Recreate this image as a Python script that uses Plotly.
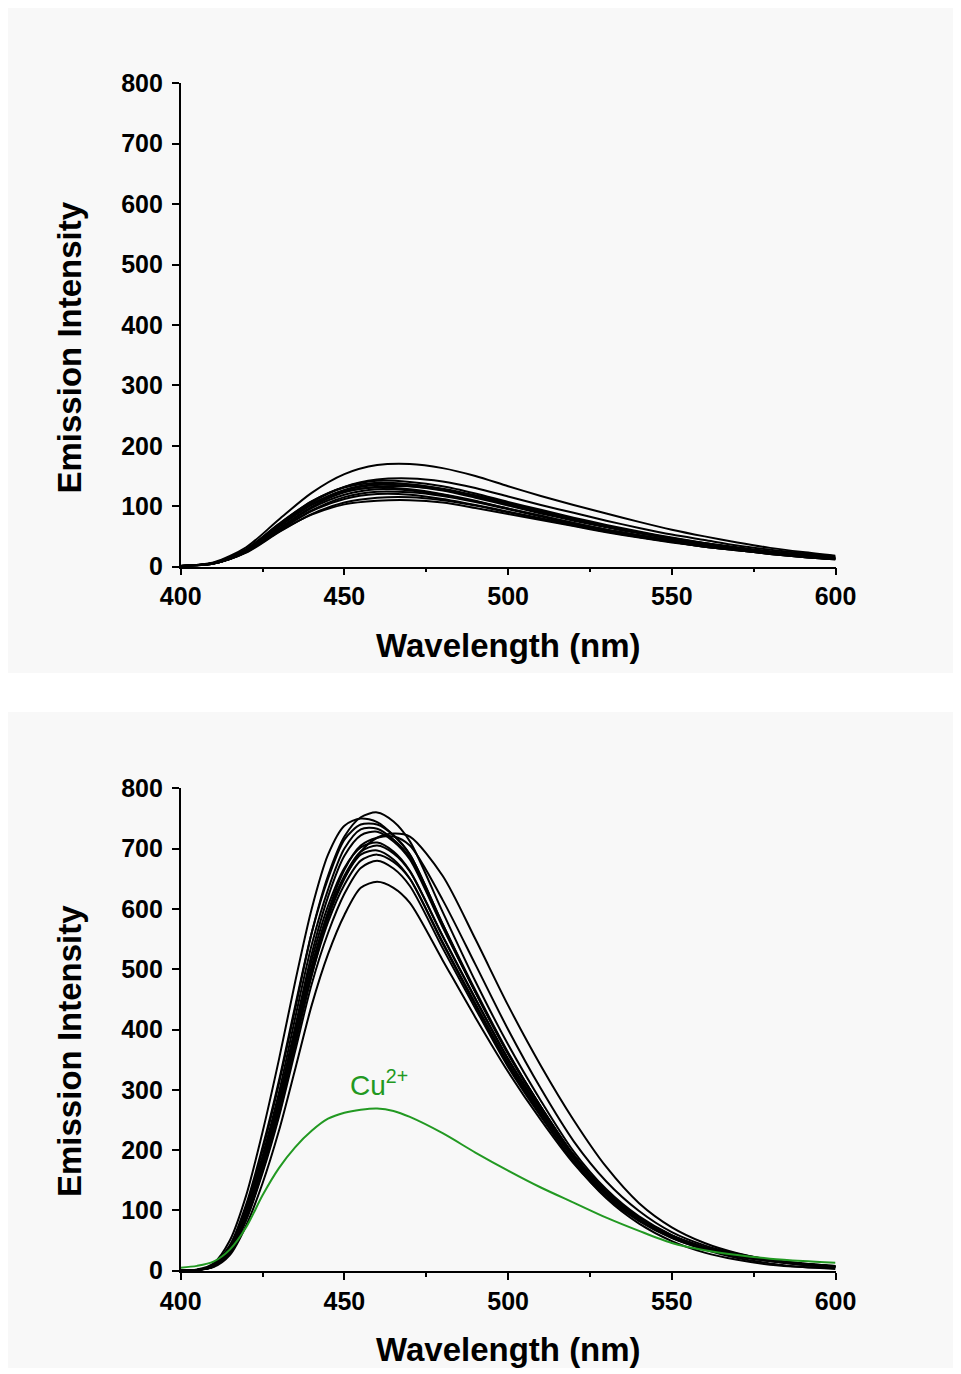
import plotly.graph_objects as go

# ---------------- data ----------------
wl_top = [400, 410, 420, 430, 440, 450, 460, 470, 480, 490, 500,
          510, 520, 530, 540, 550, 560, 570, 580, 590, 600]

top_1 = [1, 7, 32, 78, 122, 153, 168, 170, 163, 150, 133, 117, 102, 88, 74, 61, 50, 40, 31, 24, 18]
top_2 = [1, 6, 28, 68, 106, 132, 144, 146, 141, 130, 116, 102, 89, 76, 64, 53, 44, 35, 28, 22, 17]
top_3 = [1, 6, 28, 70, 108, 132, 142, 140, 133, 121, 107, 94, 81, 69, 58, 48, 39, 32, 25, 20, 15]
top_4 = [1, 6, 29, 71, 108, 131, 139, 136, 128, 116, 103, 90, 78, 66, 56, 46, 38, 31, 24, 19, 15]
top_5 = [1, 5, 26, 66, 103, 127, 137, 136, 129, 118, 105, 92, 79, 67, 57, 47, 39, 31, 25, 19, 15]
top_6 = [1, 6, 27, 67, 103, 126, 135, 133, 126, 114, 101, 88, 76, 65, 55, 46, 37, 30, 24, 19, 14]
top_7 = [1, 5, 25, 63, 99, 123, 132, 133, 127, 116, 103, 90, 77, 66, 56, 46, 38, 31, 24, 19, 14]
top_8 = [1, 6, 27, 67, 102, 124, 131, 128, 120, 109, 96, 84, 72, 61, 52, 43, 35, 28, 22, 17, 13]
top_9 = [1, 5, 25, 62, 97, 119, 128, 126, 119, 108, 96, 84, 72, 61, 52, 43, 35, 28, 22, 17, 13]
top_10 = [1, 5, 24, 60, 93, 115, 124, 123, 117, 107, 95, 83, 71, 61, 51, 43, 35, 28, 22, 17, 13]
top_11 = [1, 5, 25, 60, 92, 112, 120, 119, 112, 102, 91, 80, 69, 58, 49, 41, 33, 27, 21, 16, 12]
top_12 = [1, 5, 23, 57, 87, 106, 114, 115, 110, 101, 90, 79, 68, 58, 49, 41, 33, 27, 21, 16, 12]
top_13 = [1, 5, 24, 58, 86, 103, 109, 110, 106, 97, 87, 77, 67, 57, 48, 40, 33, 27, 21, 16, 12]

top_curves = [top_1, top_2, top_3, top_4, top_5, top_6, top_7,
              top_8, top_9, top_10, top_11, top_12, top_13]

wl_bot = [400, 405, 410, 415, 420, 425, 430, 435, 440, 445, 450, 455, 460, 465,
          470, 480, 490, 500, 510, 520, 530, 540, 550, 560, 570, 580, 590, 600]

bot_1 = [0, 1, 9, 40, 105, 200, 310, 435, 560, 655, 720, 752, 760, 745, 712, 595, 480, 375, 282, 198, 135, 90, 59, 39, 26, 17, 11, 7]
bot_2 = [0, 2, 12, 50, 125, 230, 350, 480, 600, 690, 738, 750, 744, 722, 690, 575, 462, 360, 270, 190, 130, 86, 55, 35, 21, 12, 6, 3]
bot_3 = [0, 1, 10, 42, 110, 205, 315, 440, 560, 650, 715, 740, 740, 722, 690, 575, 465, 362, 272, 192, 131, 88, 58, 38, 25, 17, 11, 7]
bot_4 = [0, 1, 9, 38, 100, 190, 295, 420, 540, 632, 700, 732, 733, 715, 685, 572, 463, 360, 272, 192, 131, 88, 58, 39, 26, 17, 11, 7]
bot_5 = [0, 1, 7, 30, 85, 165, 260, 375, 490, 585, 650, 695, 718, 725, 720, 655, 550, 440, 340, 250, 172, 112, 72, 46, 29, 18, 12, 8]
bot_6 = [0, 1, 8, 35, 95, 182, 285, 405, 525, 620, 688, 722, 728, 712, 682, 570, 462, 360, 272, 192, 131, 88, 58, 39, 26, 17, 11, 7]
bot_7 = [0, 1, 7, 32, 88, 170, 268, 385, 500, 595, 665, 705, 718, 720, 705, 615, 508, 400, 302, 215, 148, 99, 64, 42, 28, 18, 12, 8]
bot_8 = [0, 1, 8, 35, 96, 182, 283, 400, 515, 605, 668, 702, 710, 695, 663, 555, 450, 350, 265, 188, 128, 86, 57, 38, 25, 17, 11, 7]
bot_9 = [0, 1, 7, 32, 90, 172, 270, 385, 500, 590, 655, 695, 705, 692, 662, 555, 452, 352, 267, 190, 130, 87, 57, 38, 25, 17, 11, 7]
bot_10 = [0, 1, 8, 34, 93, 177, 277, 392, 505, 592, 652, 690, 697, 682, 650, 543, 440, 342, 258, 180, 120, 78, 49, 30, 18, 10, 6, 4]
bot_11 = [0, 1, 7, 31, 87, 168, 265, 378, 490, 578, 640, 680, 690, 678, 650, 545, 443, 345, 262, 186, 128, 86, 56, 37, 24, 16, 10, 6]
bot_12 = [0, 1, 7, 30, 84, 162, 255, 365, 475, 560, 625, 668, 680, 667, 638, 535, 435, 338, 256, 182, 125, 84, 55, 37, 24, 16, 10, 6]
bot_13 = [0, 1, 6, 26, 75, 145, 232, 335, 440, 525, 590, 635, 645, 635, 610, 515, 420, 330, 250, 178, 122, 82, 54, 36, 24, 16, 10, 6]

bot_curves = [bot_1, bot_2, bot_3, bot_4, bot_5, bot_6, bot_7,
              bot_8, bot_9, bot_10, bot_11, bot_12, bot_13]

cu_curve = [5, 8, 15, 35, 72, 125, 170, 205, 232, 252, 262, 267, 269, 265,
            255, 228, 196, 166, 138, 113, 88, 66, 46, 34, 26, 20, 16, 13]

x_ticks = [400, 450, 500, 550, 600]
y_ticks = [0, 100, 200, 300, 400, 500, 600, 700, 800]
x_title = "Wavelength (nm)"
y_title = "Emission Intensity"
cu_label = "Cu<sup>2+</sup>"

# ---------------- figure ----------------
OFF = 8                      # page body margin offset
W, H = 961 - OFF, 1374 - OFF
FONT = "Liberation Sans, Arial, Helvetica, sans-serif"
GREEN = "#229922"

fig = go.Figure()

for c in top_curves:
    fig.add_trace(go.Scatter(x=wl_top, y=c, mode="lines", xaxis="x", yaxis="y",
                             line=dict(color="black", width=2, shape="spline", smoothing=0.8),
                             showlegend=False, hoverinfo="skip"))

for c in bot_curves:
    fig.add_trace(go.Scatter(x=wl_bot, y=c, mode="lines", xaxis="x2", yaxis="y2",
                             line=dict(color="black", width=2, shape="spline", smoothing=0.8),
                             showlegend=False, hoverinfo="skip"))

fig.add_trace(go.Scatter(x=wl_bot, y=cu_curve, mode="lines", xaxis="x2", yaxis="y2",
                         line=dict(color=GREEN, width=2, shape="spline", smoothing=0.8),
                         showlegend=False, hoverinfo="skip"))


def px_x(p):
    return (p - OFF) / W


def px_y(p):
    return 1 - (p - OFF) / H


tickfont = dict(family=FONT, size=25, color="black", weight="bold")

xa = dict(range=[400, 600], tickvals=x_ticks, showline=True, linecolor="black", linewidth=1.6,
          ticks="outside", ticklen=7, tickwidth=1.6, tickcolor="black",
          minor=dict(ticks="outside", ticklen=4, tickwidth=1.6, tickcolor="black", dtick=25, tick0=400),
          showgrid=False, zeroline=False, tickfont=tickfont, fixedrange=True, automargin=False)
ya = dict(range=[0, 800], tickvals=y_ticks, showline=True, linecolor="black", linewidth=1.6,
          ticks="outside", ticklen=7, tickwidth=1.6, tickcolor="black", ticklabelstandoff=4,
          showgrid=False, zeroline=False, tickfont=tickfont, fixedrange=True, automargin=False)

xdom = [px_x(180.7), px_x(835.5)]

fig.update_layout(
    template="none",
    width=W, height=H, autosize=False,
    margin=dict(l=0, r=0, t=0, b=0, pad=0, autoexpand=False),
    paper_bgcolor="white", plot_bgcolor="rgba(0,0,0,0)",
    xaxis=dict(xa, domain=xdom, anchor="y"),
    yaxis=dict(ya, domain=[px_y(566.6), px_y(83.3)], anchor="x"),
    xaxis2=dict(xa, domain=xdom, anchor="y2"),
    yaxis2=dict(ya, domain=[px_y(1270.7), px_y(788.3)], anchor="x2"),
    shapes=[
        dict(type="rect", xref="paper", yref="paper", layer="below", line=dict(width=0),
             fillcolor="#f8f8f8", x0=px_x(8), x1=px_x(955), y0=px_y(673), y1=px_y(8)),
        dict(type="rect", xref="paper", yref="paper", layer="below", line=dict(width=0),
             fillcolor="#f8f8f8", x0=px_x(8), x1=px_x(955), y0=px_y(1368), y1=px_y(712)),
    ],
)

title_font = dict(family=FONT, size=33, color="black", weight="bold")
ann = []
for yc, xc_title in [(347.5, 645.0), (1051.0, 1349.0)]:
    ann.append(dict(text=y_title, xref="paper", yref="paper", x=px_x(69), y=px_y(yc),
                    textangle=-90, showarrow=False, font=title_font,
                    xanchor="center", yanchor="middle"))
    ann.append(dict(text=x_title, xref="paper", yref="paper", x=px_x(508.5), y=px_y(xc_title),
                    showarrow=False, font=title_font, xanchor="center", yanchor="middle"))

ann.append(dict(text=cu_label, xref="x2", yref="y2", x=451, y=312, xanchor="left", yanchor="middle",
                showarrow=False, font=dict(family=FONT, size=28, color=GREEN)))
fig.update_layout(annotations=ann)

fig.write_html("out.html")
